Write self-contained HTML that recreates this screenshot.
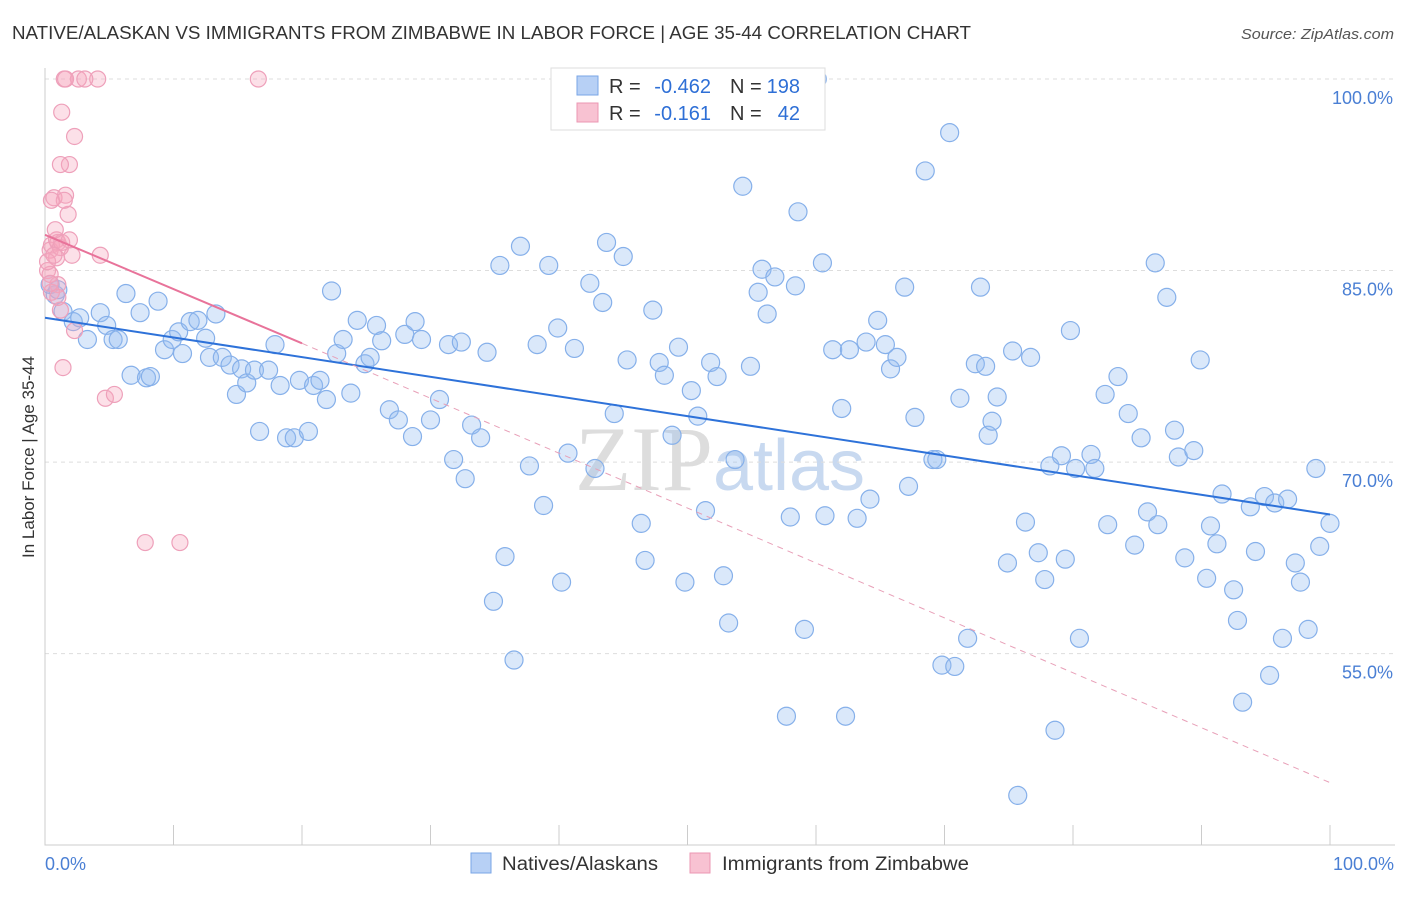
<!DOCTYPE html>
<html><head><meta charset="utf-8"><style>
body{margin:0;background:#fff;font-family:"Liberation Sans",sans-serif}
</style></head><body>
<svg id="c" width="1406" height="892" xmlns="http://www.w3.org/2000/svg" style="font-family:'Liberation Sans',sans-serif">
<text x="12" y="39" font-size="18" fill="#333" textLength="959" lengthAdjust="spacingAndGlyphs">NATIVE/ALASKAN VS IMMIGRANTS FROM ZIMBABWE IN LABOR FORCE | AGE 35-44 CORRELATION CHART</text>
<text x="1241" y="39" font-size="15" fill="#555" font-style="italic" textLength="153" lengthAdjust="spacingAndGlyphs">Source: ZipAtlas.com</text>
<text x="720" y="490" font-size="92" fill="#ddd" text-anchor="middle" font-family="Liberation Serif,serif">ZIP<tspan fill="#c8d9f0" font-family="Liberation Sans,sans-serif" font-size="72">atlas</tspan></text>
<text transform="translate(34,457) rotate(-90)" font-size="17" fill="#333" text-anchor="middle">In Labor Force | Age 35-44</text>
<g id="grid"></g><g id="axes"></g><g id="pts"></g><g id="trend"></g>
<g>
<rect x="551" y="68" width="274" height="62" fill="#fff" stroke="#ddd"/>
<rect x="577" y="76" width="21" height="19" fill="#b7d0f5" stroke="#7aa6e6"/>
<rect x="577" y="103" width="21" height="19" fill="#f8c2d2" stroke="#eb97b3"/>
<text x="609" y="93" font-size="20" fill="#333">R =</text>
<text x="711" y="93" font-size="20" fill="#2e6fd6" text-anchor="end">-0.462</text>
<text x="730" y="93" font-size="20" fill="#333">N =</text>
<text x="800" y="93" font-size="20" fill="#2e6fd6" text-anchor="end">198</text>
<text x="609" y="120" font-size="20" fill="#333">R =</text>
<text x="711" y="120" font-size="20" fill="#2e6fd6" text-anchor="end">-0.161</text>
<text x="730" y="120" font-size="20" fill="#333">N =</text>
<text x="800" y="120" font-size="20" fill="#2e6fd6" text-anchor="end">42</text>
</g>
<g>
<rect x="471" y="853" width="20" height="20" fill="#b7d0f5" stroke="#7aa6e6"/>
<text x="502" y="870" font-size="19" fill="#333" textLength="156" lengthAdjust="spacingAndGlyphs">Natives/Alaskans</text>
<rect x="690" y="853" width="20" height="20" fill="#f8c2d2" stroke="#eb97b3"/>
<text x="722" y="870" font-size="19" fill="#333" textLength="247" lengthAdjust="spacingAndGlyphs">Immigrants from Zimbabwe</text>
</g>
</svg>
<script>
const yTicks=[55,70,85,100];
const xTickLabels=["0.0%","100.0%"];
const blueX=[0.4,0.8,1.0,1.4,2.2,2.7,3.3,4.3,4.8,5.3,5.7,6.3,6.7,7.4,7.9,8.2,8.8,9.3,9.9,10.4,10.7,11.3,11.9,12.5,12.8,13.3,13.8,14.4,14.9,15.3,15.7,16.3,16.7,17.4,17.9,18.3,18.8,19.4,19.8,20.5,20.9,21.4,21.9,22.3,22.7,23.2,23.8,24.3,24.9,25.3,25.8,26.2,26.8,27.5,28.0,28.6,28.8,29.3,30.0,30.7,31.4,31.8,32.4,32.7,33.2,33.9,34.4,34.9,35.4,35.8,36.5,37.0,37.7,38.3,38.8,39.2,39.9,40.2,40.7,41.2,42.4,42.8,43.4,43.7,44.3,45.0,45.3,46.4,46.7,47.3,47.8,48.2,48.8,49.3,49.8,50.3,50.8,51.4,51.8,52.3,52.8,53.2,53.7,54.3,54.9,55.5,55.8,56.2,56.8,57.7,58.0,58.4,58.6,59.1,60.1,60.5,60.7,61.3,62.0,62.3,62.6,63.2,63.9,64.2,64.8,65.4,65.8,66.3,66.9,67.2,67.7,68.5,69.1,69.4,69.8,70.4,70.8,71.2,71.8,72.4,72.8,73.2,73.4,73.7,74.1,74.9,75.3,75.7,76.3,76.7,77.3,77.8,78.2,78.6,79.1,79.4,79.8,80.2,80.5,81.4,81.7,82.5,82.7,83.5,84.3,84.8,85.3,85.8,86.4,86.6,87.3,87.9,88.2,88.7,89.4,89.9,90.4,90.7,91.2,91.6,92.5,92.8,93.2,93.8,94.2,94.9,95.3,95.7,96.3,96.7,97.3,97.7,98.3,98.9,99.2,100,45.8];
const blueY=[83.9,83.1,83.5,81.8,81.0,81.3,79.6,81.7,80.7,79.6,79.6,83.2,76.8,81.7,76.6,76.7,82.6,78.8,79.6,80.2,78.5,81.0,81.1,79.7,78.2,81.6,78.2,77.6,75.3,77.3,76.2,77.2,72.4,77.2,79.2,76.0,71.9,71.9,76.4,72.4,76.0,76.4,74.9,83.4,78.5,79.6,75.4,81.1,77.7,78.2,80.7,79.5,74.1,73.3,80.0,72.0,81.0,79.6,73.3,74.9,79.2,70.2,79.4,68.7,72.9,71.9,78.6,59.1,85.4,62.6,54.5,86.9,69.7,79.2,66.6,85.4,80.5,60.6,70.7,78.9,84.0,69.5,82.5,87.2,73.8,86.1,78.0,65.2,62.3,81.9,77.8,76.8,72.1,79.0,60.6,75.6,73.6,66.2,77.8,76.7,61.1,57.4,70.2,91.6,77.5,83.3,85.1,81.6,84.5,50.1,65.7,83.8,89.6,56.9,100,85.6,65.8,78.8,74.2,50.1,78.8,65.6,79.4,67.1,81.1,79.2,77.3,78.2,83.7,68.1,73.5,92.8,70.2,70.2,54.1,95.8,54.0,75.0,56.2,77.7,83.7,77.5,72.1,73.2,75.1,62.1,78.7,43.9,65.3,78.2,62.9,60.8,69.7,49.0,70.5,62.4,80.3,69.5,56.2,70.6,69.5,75.3,65.1,76.7,73.8,63.5,71.9,66.1,85.6,65.1,82.9,72.5,70.4,62.5,70.9,78.0,60.9,65.0,63.6,67.5,60.0,57.6,51.2,66.5,63.0,67.3,53.3,66.8,56.2,67.1,62.1,60.6,56.9,69.5,63.4,65.2,99.9];
const pinkX=[0.2,0.4,0.5,0.7,0.9,1.0,1.2,1.3,1.5,1.6,1.8,1.9,2.1,2.3,2.3,2.6,1.4,1.2,1.5,0.9,1.0,1.2,1.3,0.4,0.5,4.1,4.3,4.7,5.4,7.8,10.5,16.6,0.5,0.4,0.2,0.8,1.0,1.6,1.9,0.7,3.1];
const pinkY=[85.0,86.6,87.0,90.7,86.0,83.9,81.9,97.4,100,90.9,89.4,93.3,86.2,95.5,80.3,100,77.4,93.3,90.5,87.4,87.2,86.8,87.2,84.7,83.3,100,86.2,75.0,75.3,63.7,63.7,100,90.5,84.0,85.7,88.2,82.9,100,87.4,86.2,100];
const blueTrend=[81.3,65.9];
const pinkTrend=[87.8,79.3,44.9];
const X=v=>45+v*12.85, Y=v=>79+(100-v)*12.77;
const NS="http://www.w3.org/2000/svg";
function mk(t,a,p){const e=document.createElementNS(NS,t);for(const k in a)e.setAttribute(k,a[k]);p.appendChild(e);return e;}
const grid=document.getElementById('grid'),axes=document.getElementById('axes'),pts=document.getElementById('pts'),tr=document.getElementById('trend');
yTicks.forEach(v=>{
 const l=mk('line',{x1:45,x2:1395,y1:Y(v),y2:Y(v),stroke:'#ddd','stroke-dasharray':'4,4'},grid);
 
 
 const t=mk('text',{x:1393,y:Y(v)+25,'font-size':18,fill:'#4a7fd4','text-anchor':'end'},grid);
 t.textContent=v.toFixed(1)+'%';
 
 
});
const ax=mk('path',{d:'M45 68V845H1395',stroke:'#ccc',fill:'none'},axes);


for(let i=0;i<=10;i++){
 const l=mk('line',{x1:X(i*10),x2:X(i*10),y1:825,y2:845,stroke:'#ccc'},axes);
 
 
}
const t0=mk('text',{x:45,y:870,'font-size':18,fill:'#4a7fd4'},axes);t0.textContent=xTickLabels[0];


const t1=mk('text',{x:1394,y:870,'font-size':18,fill:'#4a7fd4','text-anchor':'end'},axes);t1.textContent=xTickLabels[1];


blueX.forEach((x,i)=>{
 const c=mk('circle',{cx:X(x),cy:Y(blueY[i]),r:9,fill:'rgba(150,190,240,0.35)',stroke:'#86b0ea','stroke-width':1.2},pts);
 
 
});
pinkX.forEach((x,i)=>{
 const c=mk('circle',{cx:X(x),cy:Y(pinkY[i]),r:8,fill:'rgba(245,165,190,0.35)',stroke:'#eea0ba','stroke-width':1.2},pts);
 
 
});
const bl=mk('line',{x1:X(0),y1:Y(blueTrend[0]),x2:X(100),y2:Y(blueTrend[1]),stroke:'#2e72d9','stroke-width':2},tr);


const pd=mk('line',{x1:X(20),y1:Y(pinkTrend[1]),x2:X(100),y2:Y(pinkTrend[2]),stroke:'#e8a0b8','stroke-width':1,'stroke-dasharray':'6,5'},tr);


const pl=mk('line',{x1:X(0),y1:Y(pinkTrend[0]),x2:X(20),y2:Y(pinkTrend[1]),stroke:'#e8739a','stroke-width':2},tr);


</script>
</body></html>
